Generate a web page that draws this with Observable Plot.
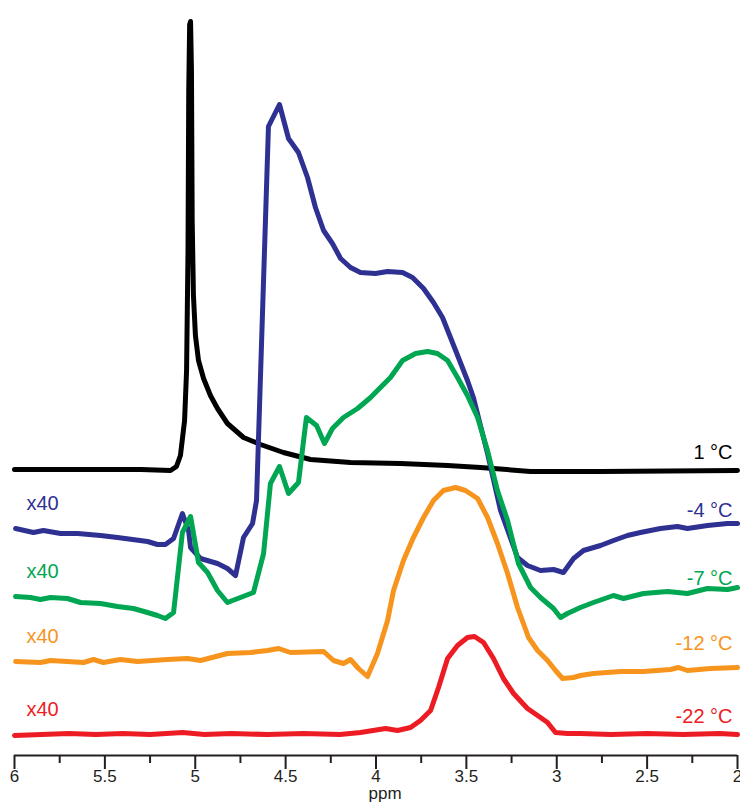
<!DOCTYPE html>
<html><head><meta charset="utf-8">
<script src="https://cdn.jsdelivr.net/npm/d3@7"></script>
<script src="https://cdn.jsdelivr.net/npm/@observablehq/plot@0.6"></script>
<style>body{margin:0;background:#fff} #chart{width:740px;height:804px}</style>
</head><body><div id="chart"></div>
<script>
// Series (temperatures) and their scale notes
const seriesNames = ["1 °C", "-4 °C", "-7 °C", "-12 °C", "-22 °C"];
const scaleNotes = ["", "x40", "x40", "x40", "x40"];

// 1 °C
const ppm_1 = [6.0, 5.6, 5.3, 5.137, 5.104, 5.082, 5.059, 5.048, 5.040, 5.036, 5.031, 5.026, 5.021, 5.017, 5.010, 4.999, 4.982, 4.954, 4.916, 4.877, 4.822, 4.733, 4.639, 4.512, 4.362, 4.141, 3.864, 3.604, 3.422, 3.145, 2.758, 2.0];
const int_1 = [1, 1, 1, 0, 4, 15, 50, 100, 220, 380, 446, 449, 400, 250, 175, 135, 110, 92, 75, 62, 47, 33, 26, 18, 11, 8, 7, 5, 3, -1, -1, 0];

// -4 °C (x40)
const ppm_m4 = [5.994, 5.895, 5.840, 5.745, 5.651, 5.524, 5.430, 5.264, 5.209, 5.165, 5.120, 5.071, 5.037, 5.026, 4.971, 4.877, 4.822, 4.777, 4.733, 4.683, 4.661, 4.595, 4.534, 4.484, 4.429, 4.379, 4.335, 4.290, 4.241, 4.196, 4.141, 4.086, 4.003, 3.936, 3.853, 3.798, 3.737, 3.682, 3.632, 3.588, 3.544, 3.494, 3.461, 3.383, 3.311, 3.217, 3.162, 3.090, 3.018, 2.963, 2.907, 2.852, 2.758, 2.686, 2.609, 2.537, 2.426, 2.332, 2.277, 2.166, 2.055, 2.0];
const int_m4 = [0, -4, -2, -5, -5, -7, -9, -13, -16, -16, -10, 15, -2, -19, -30, -35, -40, -47, -9, 5, 28, 402, 424, 390, 376, 351, 321, 298, 285, 270, 261, 256, 255, 257, 256, 251, 240, 226, 211, 191, 171, 148, 131, 75, 18, -29, -37, -42, -41, -44, -30, -22, -17, -12, -7, -4, 0, 2, 0, 3, 5, 5];

// -7 °C (x40)
const ppm_m7 = [5.994, 5.911, 5.856, 5.801, 5.707, 5.635, 5.524, 5.430, 5.342, 5.264, 5.209, 5.165, 5.120, 5.071, 5.026, 4.982, 4.932, 4.877, 4.822, 4.750, 4.678, 4.622, 4.584, 4.534, 4.484, 4.429, 4.385, 4.329, 4.285, 4.241, 4.180, 4.102, 4.030, 3.992, 3.920, 3.853, 3.781, 3.715, 3.660, 3.604, 3.549, 3.494, 3.438, 3.383, 3.328, 3.272, 3.212, 3.145, 3.090, 3.018, 2.979, 2.941, 2.869, 2.797, 2.686, 2.631, 2.520, 2.387, 2.277, 2.166, 2.055, 2.0];
const int_m7 = [0, -1, -3, -1, -2, -6, -7, -10, -12, -16, -19, -22, -16, 64, 80, 34, 24, 6, -6, -1, 4, 43, 113, 130, 103, 114, 179, 171, 153, 168, 179, 188, 199, 206, 219, 236, 243, 245, 243, 236, 219, 201, 179, 146, 106, 76, 33, 9, -1, -12, -21, -17, -11, -6, 1, -2, 3, 5, 3, 8, 7, 9];

// -12 °C (x40)
const ppm_m12 = [5.994, 5.856, 5.801, 5.618, 5.563, 5.508, 5.414, 5.320, 5.154, 5.043, 4.971, 4.822, 4.694, 4.600, 4.539, 4.473, 4.290, 4.235, 4.180, 4.141, 4.097, 4.047, 3.992, 3.936, 3.903, 3.848, 3.793, 3.737, 3.682, 3.627, 3.560, 3.505, 3.438, 3.383, 3.328, 3.272, 3.217, 3.156, 3.106, 3.051, 3.007, 2.968, 2.907, 2.869, 2.797, 2.647, 2.520, 2.371, 2.326, 2.277, 2.149, 2.0];
const int_m12 = [0, -1, 1, -1, 2, -1, 2, 0, 2, 3, 1, 8, 9, 11, 13, 9, 10, 1, -2, 2, -7, -15, 8, 41, 71, 101, 124, 144, 161, 171, 174, 171, 163, 144, 118, 88, 54, 24, 11, 1, -9, -17, -16, -14, -12, -10, -10, -8, -6, -9, -7, -6];

// -22 °C (x40)
const ppm_m22 = [6.0, 5.85, 5.7, 5.55, 5.4, 5.25, 5.07, 4.95, 4.8, 4.6, 4.4, 4.2, 4.086, 3.947, 3.881, 3.809, 3.754, 3.698, 3.654, 3.604, 3.549, 3.494, 3.455, 3.405, 3.350, 3.295, 3.239, 3.162, 3.090, 3.051, 3.007, 2.941, 2.869, 2.7, 2.5, 2.3, 2.1, 2.0];
const int_m22 = [-1, 0, 1, 0, 1, 0, 2, 0, 1, 0, 1, 0, 2, 6, 4, 7, 14, 24, 47, 76, 89, 97, 98, 92, 76, 56, 41, 26, 17, 12, 2, 1, 1, 0, 1, 0, 1, 0];

// Axis ticks
const majorTicks = [6, 5.5, 5, 4.5, 4, 3.5, 3, 2.5, 2];
const minorTicks = [5.75, 5.25, 4.75, 4.25, 3.75, 3.25, 2.75, 2.25];

// ---- presentation ----
const colors = ["#000000", "#2e3192", "#00a651", "#f7941d", "#ed1c24"];
const stackOffsets = [285, 227, 159, 94, 21];
const ppmArrays = [ppm_1, ppm_m4, ppm_m7, ppm_m12, ppm_m22];
const intArrays = [int_1, int_m4, int_m7, int_m12, int_m22];

const rows = seriesNames.flatMap((name, i) =>
  ppmArrays[i].map((p, j) => ({series: name, ppm: p, value: intArrays[i][j] + stackOffsets[i]})));
const labelRows = seriesNames.map((name, i) => ({series: name, note: scaleNotes[i], base: stackOffsets[i]}));

const chart = Plot.plot({
  width: 740, height: 804,
  marginTop: 0, marginBottom: 49, marginLeft: 14, marginRight: 3,
  style: {fontFamily: "'Liberation Sans', Arial, sans-serif", fontSize: "17px", color: "#231f20", background: "#fff", overflow: "visible"},
  x: {domain: [6, 2]},
  y: {domain: [0, 755], axis: null},
  color: {domain: seriesNames, range: colors},
  marks: [
    Plot.ruleY([0], {strokeWidth: 2, stroke: "#231f20"}),
    Plot.axisX({ticks: majorTicks, tickSize: 14, tickPadding: 0, strokeWidth: 2, tickFormat: d => String(d), label: null}),
    Plot.axisX({ticks: minorTicks, tickSize: 8, strokeWidth: 2, tickFormat: () => "", label: null}),
    Plot.text(["ppm"], {text: d => d, frameAnchor: "bottom", dx: 9, dy: 43, fontSize: 17, fill: "#231f20"}),
    Plot.line(rows, {x: "ppm", y: "value", z: "series", stroke: "series", strokeWidth: 5}),
    Plot.text(labelRows.filter(d => d.note), {frameAnchor: "left", y: d => d.base + 25, text: "note", fill: "series", textAnchor: "start", dx: 12, fontSize: 20}),
    Plot.text(labelRows, {frameAnchor: "right", y: d => d.base + 18, text: "series", fill: "series", textAnchor: "end", dx: -5, fontSize: 20})
  ]
});
document.getElementById("chart").append(chart);
</script>
</body></html>
